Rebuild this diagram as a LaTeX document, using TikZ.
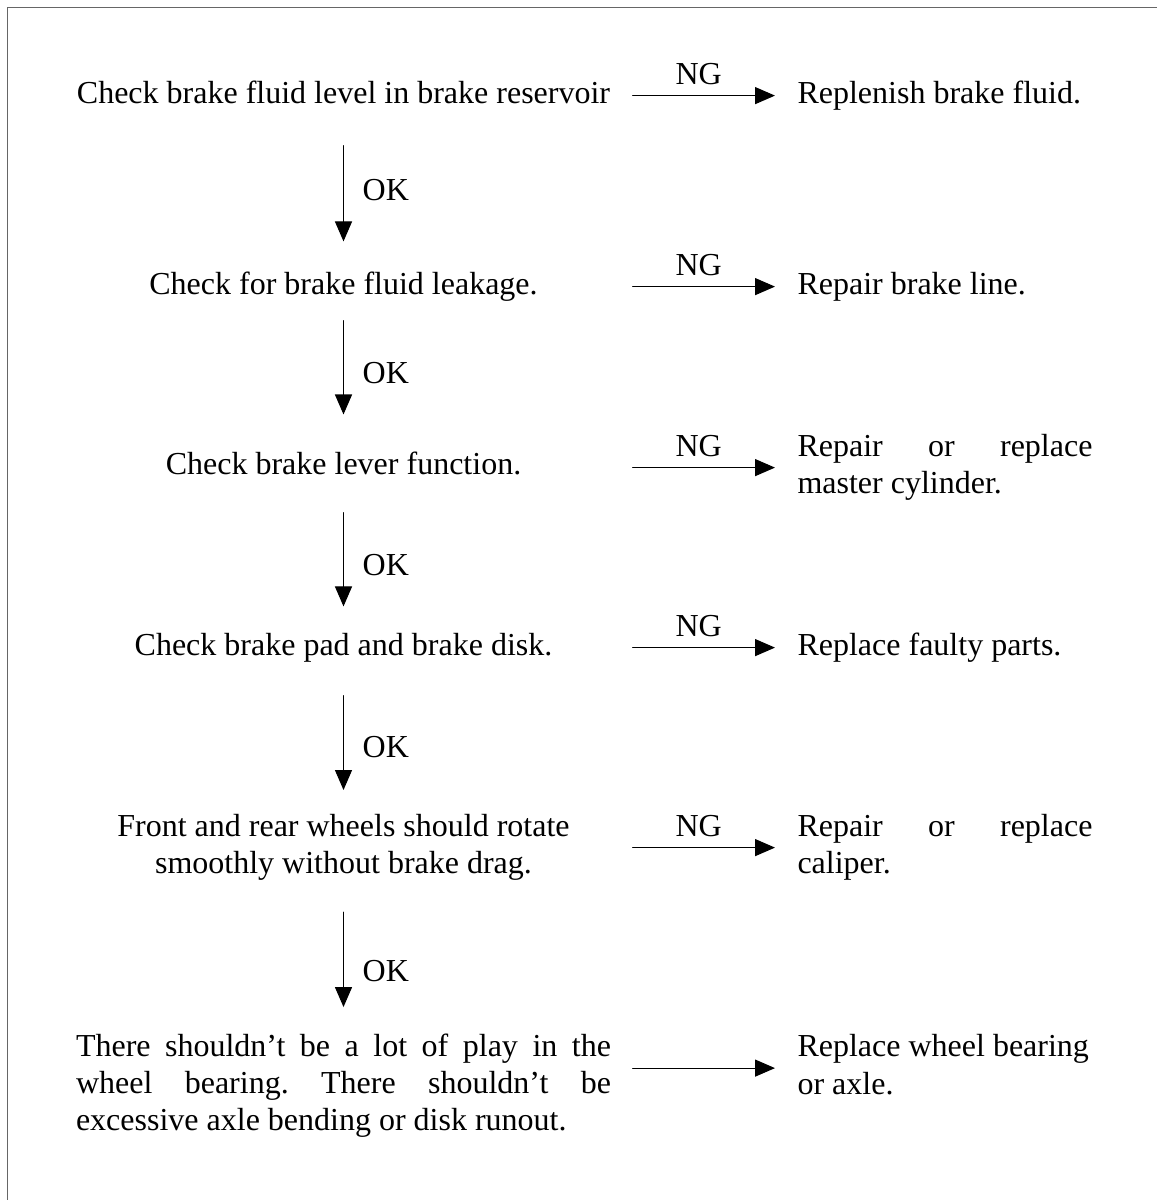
\documentclass[tikz,border=0pt]{standalone}
\usepackage{fontspec}
\setmainfont{Liberation Serif}
\usetikzlibrary{arrows.meta}
\tikzset{
  check/.style={minimum width=200.6pt, align=center, inner sep=0pt},
  remedy/.style={anchor=west, align=left, inner sep=0pt},
  flow/.style={-{Triangle[length=7.5pt,width=6.4pt]}, line width=0.4pt},
}
\begin{document}
\begin{tikzpicture}[x=0.375pt, y=-0.375pt, line cap=round, every node/.style={font=\fontsize{12}{13.9}\selectfont}]
		\useasboundingbox (0,0) rectangle (1157,1200);
		%Frame
		\draw[black!60, line width=0.6pt] (7.5,7.5) rectangle (1180,1220);
		%Checks on the left
		\node[check] (c1) at (343.5,95.6) {\strut Check brake fluid level in brake reservoir};
		\node[check] (c2) at (343.5,286.6) {\strut Check for brake fluid leakage.};
		\node[check] (c3) at (343.5,466.6) {\strut Check brake lever function.};
		\node[check] (c4) at (343.5,647.6) {\strut Check brake pad and brake disk.};
		\node[check] (c5) at (343.5,847.6) {\strut Front and rear wheels should rotate\\ smoothly without brake drag.\strut};
		\node[check, align=left] (c6) at (343.5,1086.1) {\strut\makebox[200.6pt][s]{There shouldn’t be a lot of play in the}\\ \makebox[200.6pt][s]{wheel bearing.\ There shouldn’t be}\\ excessive axle bending or disk runout.\strut};
		%Remedies on the right
		\node[remedy] (r1) at (797,95.6) {\strut Replenish brake fluid.};
		\node[remedy] (r2) at (797,286.6) {\strut Repair brake line.};
		\node[remedy] (r3) at (797,467.6) {\strut\makebox[110.6pt][s]{Repair or replace}\\ master cylinder.\strut};
		\node[remedy] (r4) at (797,647.6) {\strut Replace faulty parts.};
		\node[remedy] (r5) at (797,847.6) {\strut\makebox[110.6pt][s]{Repair or replace}\\ caliper.\strut};
		\node[remedy] (r6) at (797,1068.1) {\strut Replace wheel bearing\\ or axle.\strut};
		%NG arrows
		\foreach \n in {1,...,5} \draw[flow, shorten <=7.9pt, shorten >=8.25pt] (c\n.east |- r\n.west) -- (r\n.west) node[pos=0.47, above=4pt, inner sep=0pt] {NG};
		\draw[flow, shorten <=7.9pt, shorten >=8.25pt] (c6.east |- r6.west) -- (r6.west);
		%OK arrows
		\foreach \a/\b/\s/\e/\p in {c1/c2/11.6pt/9.8pt/0.49, c2/c3/5.6pt/12.4pt/0.476, c3/c4/10.1pt/8.3pt/0.556, c4/c5/10.9pt/7.5pt/0.5625, c5/c6/10.1pt/8.6pt/0.596}
		\draw[flow, shorten <=\s, shorten >=\e] (\a.south) -- (\b.north) node[pos=\p, right=7pt, inner sep=0pt] {OK};
\end{tikzpicture}
\end{document}
